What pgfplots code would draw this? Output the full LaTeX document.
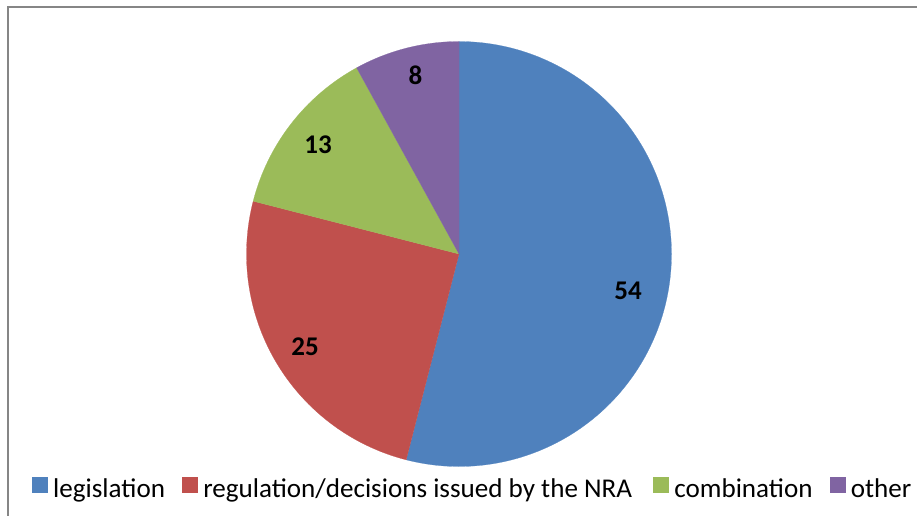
\documentclass[border=0pt]{standalone}
\usepackage{pgfplots}
\pgfplotsset{compat=1.18}
\usepackage{fontspec}
\setmainfont{Carlito}
\definecolor{pieblue}{HTML}{4F81BD}
\definecolor{piered}{HTML}{C0504D}
\definecolor{piegreen}{HTML}{9BBB59}
\definecolor{piepurple}{HTML}{8064A2}
\definecolor{framegray}{HTML}{868686}
% values: legislation 54, regulation 25, combination 13, other 8 (percent)
% slices start at 90 deg and run clockwise; 1 % = 3.6 deg
\begin{document}
\begin{tikzpicture}
\useasboundingbox (0,0) rectangle (917pt,515pt);
\begin{axis}[
  at={(0pt,0pt)}, anchor=south west,
  scale only axis, width=917pt, height=515pt,
  xmin=0, xmax=917, ymin=0, ymax=515,
  hide axis,
  legend columns=4,
  legend cell align=left,
  legend image code/.code={\fill[#1] (0pt,-5.9pt) rectangle (15pt,9.1pt);},
  legend style={at={(axis cs:32,28.4)}, anchor=west, draw=none, fill=none,
    inner sep=0pt, outer sep=0pt,
    font=\fontsize{27.1}{32}\selectfont,
    nodes={inner sep=0pt},
    /tikz/every even column/.append style={column sep=0pt},
    /tikz/every odd column/.append style={column sep=0pt}},
]
\draw[framegray, line width=2pt] (axis cs:8,508) rectangle (axis cs:940,-20);
% legislation 54
\addplot[fill=pieblue, draw=pieblue, line width=0.2pt, domain=-104.4:90, samples=150]
  ({459+212.5*cos(x)},{261+212.5*sin(x)}) -- (axis cs:459,261) -- cycle;
\addlegendentry{\strut\hspace{6pt}legislation\hspace{17pt}\null}
% regulation 25
\addplot[fill=piered, draw=piered, line width=0.2pt, domain=-194.4:-104.4, samples=80]
  ({459+212.5*cos(x)},{261+212.5*sin(x)}) -- (axis cs:459,261) -- cycle;
\addlegendentry{\strut\hspace{6pt}regulation/decisions issued by the NRA\hspace{21pt}\null}
% combination 13
\addplot[fill=piegreen, draw=piegreen, line width=0.2pt, domain=-241.2:-194.4, samples=50]
  ({459+212.5*cos(x)},{261+212.5*sin(x)}) -- (axis cs:459,261) -- cycle;
\addlegendentry{\strut\hspace{6pt}combination\hspace{17pt}\null}
% other 8
\addplot[fill=piepurple, draw=piepurple, line width=0.2pt, domain=-270:-241.2, samples=40]
  ({459+212.5*cos(x)},{261+212.5*sin(x)}) -- (axis cs:459,261) -- cycle;
\addlegendentry{\strut\hspace{6pt}other}
\node[font=\fontsize{27}{32}\selectfont\bfseries, inner sep=0pt] at (axis cs:628,224.5) {54};
\node[font=\fontsize{27}{32}\selectfont\bfseries, inner sep=0pt] at (axis cs:305,168) {25};
\node[font=\fontsize{27}{32}\selectfont\bfseries, inner sep=0pt] at (axis cs:318,370.5) {13};
\node[font=\fontsize{27}{32}\selectfont\bfseries, inner sep=0pt] at (axis cs:415.5,439.5) {8};
\end{axis}
\end{tikzpicture}
\end{document}
